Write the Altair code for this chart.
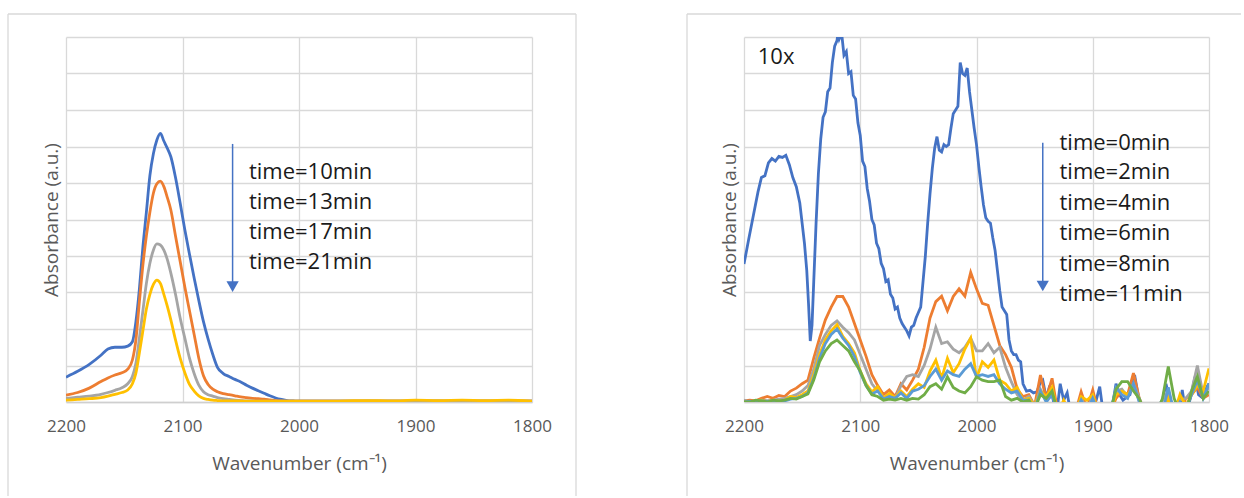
import altair as alt
import pandas as pd

FONT = "Open Sans"
GRID = "#d9d9d9"
AXIS_TEXT = "#595959"
BLUE, ORANGE, GRAY, YELLOW, LIGHT_BLUE, GREEN = (
    "#4472C4", "#ED7D31", "#A5A5A5", "#FFC000", "#5B9BD5", "#70AD47")

# ---------------- left panel: spectra at 10, 13, 17 and 21 min ----------------
LEFT_WN = [2200, 2190, 2180, 2170, 2164, 2158, 2152, 2147, 2143, 2140,
           2137, 2134, 2131, 2128, 2125, 2122, 2119, 2116, 2113, 2110,
           2106, 2102, 2098, 2094, 2090, 2086, 2082, 2078, 2074, 2070,
           2065, 2060, 2055, 2050, 2045, 2040, 2035, 2030, 2025, 2020,
           2015, 2010, 2005, 2000, 1980, 1960, 1940, 1920, 1900, 1880,
           1860, 1840, 1820, 1800]
LEFT_T10 = [0.68, 0.84, 1.03, 1.28, 1.45, 1.50, 1.50, 1.53, 1.65, 2.20,
            3.10, 4.25, 5.20, 6.20, 6.80, 7.18, 7.36, 7.15, 6.95, 6.72,
            6.15, 5.45, 4.72, 4.05, 3.40, 2.78, 2.20, 1.72, 1.30, 0.95,
            0.78, 0.70, 0.62, 0.55, 0.46, 0.38, 0.31, 0.24, 0.17, 0.11,
            0.07, 0.04, 0.03, 0.02, 0.02, 0.02, 0.02, 0.02, 0.02, 0.02,
            0.02, 0.02, 0.02, 0.02]
LEFT_T13 = [0.19, 0.26, 0.38, 0.56, 0.66, 0.74, 0.80, 0.90, 1.15, 1.70,
            2.75, 3.75, 4.55, 5.20, 5.72, 5.98, 6.05, 5.90, 5.60, 5.26,
            4.55, 3.85, 3.15, 2.50, 1.85, 1.20, 0.72, 0.48, 0.35, 0.28,
            0.23, 0.20, 0.17, 0.14, 0.12, 0.10, 0.09, 0.08, 0.06, 0.04,
            0.03, 0.02, 0.02, 0.02, 0.02, 0.02, 0.02, 0.02, 0.02, 0.02,
            0.02, 0.02, 0.02, 0.02]
LEFT_T17 = [0.10, 0.13, 0.16, 0.21, 0.26, 0.32, 0.39, 0.50, 0.70, 1.06,
            1.75, 2.50, 3.25, 3.80, 4.16, 4.33, 4.30, 4.16, 3.90, 3.53,
            2.95, 2.30, 1.75, 1.20, 0.78, 0.46, 0.28, 0.20, 0.16, 0.12,
            0.09, 0.07, 0.05, 0.04, 0.03, 0.03, 0.02, 0.02, 0.02, 0.02,
            0.02, 0.02, 0.02, 0.02, 0.02, 0.02, 0.03, 0.02, 0.03, 0.03,
            0.02, 0.03, 0.02, 0.02]
LEFT_T21 = [0.05, 0.07, 0.09, 0.12, 0.16, 0.21, 0.26, 0.33, 0.50, 0.79,
            1.35, 1.95, 2.55, 2.95, 3.22, 3.34, 3.25, 2.95, 2.62, 2.25,
            1.70, 1.20, 0.80, 0.48, 0.30, 0.17, 0.10, 0.07, 0.05, 0.04,
            0.03, 0.03, 0.03, 0.03, 0.02, 0.02, 0.02, 0.02, 0.02, 0.02,
            0.02, 0.02, 0.02, 0.02, 0.02, 0.03, 0.04, 0.03, 0.05, 0.04,
            0.05, 0.04, 0.05, 0.02]
LEFT_LABELS = ["time=10min", "time=13min", "time=17min", "time=21min"]
LEFT_LABEL_Y = [6.30, 5.48, 4.66, 3.84]

# ---------------- right panel (x10): spectra at 0 - 11 min ----------------
RIGHT_T0 = [
    (2200, 3.78), (2196, 4.45), (2192, 5.10), (2188, 5.75), (2185, 6.15),
    (2182, 6.20), (2179, 6.55), (2176, 6.67), (2173, 6.60), (2170, 6.73),
    (2167, 6.70), (2164, 6.76), (2161, 6.50), (2158, 6.15), (2155, 5.90),
    (2152, 5.45), (2150, 4.90), (2148, 4.35), (2146, 3.60), (2144.5, 2.70),
    (2143, 1.67), (2141.5, 2.10), (2140, 3.30), (2138, 4.90), (2136, 6.26),
    (2134, 7.20), (2132, 7.80), (2130, 7.95), (2128, 8.50), (2126, 8.60),
    (2124, 9.30), (2122, 9.75), (2120, 9.90), (2119, 10.15), (2118, 9.95),
    (2116, 10.10), (2114, 9.50), (2112, 9.60), (2110, 9.00), (2108, 9.05),
    (2106, 8.40), (2104, 8.30), (2102, 7.65), (2100, 7.30), (2098, 6.60),
    (2096, 6.45), (2094, 5.85), (2092, 5.50), (2090, 5.00), (2088, 4.85),
    (2086, 4.35), (2084, 4.20), (2082, 3.80), (2080, 3.65), (2078, 3.30),
    (2076, 3.35), (2074, 2.95), (2072, 2.85), (2070, 2.55), (2068, 2.60),
    (2066, 2.30), (2064, 2.15), (2062, 2.05), (2060, 1.95), (2058, 1.81),
    (2056, 2.05), (2054, 2.10), (2052, 2.30), (2050, 2.45), (2048, 2.60),
    (2046, 3.30), (2044, 4.00), (2042, 4.90), (2040, 5.70), (2038, 6.40),
    (2036, 6.95), (2034, 7.27), (2032, 6.90), (2030, 6.85), (2028, 7.05),
    (2026, 7.00), (2024, 7.05), (2022, 7.50), (2020, 7.90), (2018, 8.00),
    (2016, 8.10), (2014, 9.30), (2012, 9.00), (2010, 8.95), (2008, 9.15),
    (2006, 8.50), (2004, 8.00), (2002, 7.50), (2000, 7.05), (1998, 6.45),
    (1996, 5.90), (1994, 5.40), (1992, 5.05), (1990, 4.95), (1988, 4.90),
    (1986, 4.50), (1984, 4.15), (1982, 3.60), (1980, 3.05), (1978, 2.60),
    (1976, 2.50), (1974, 2.40), (1972, 1.70), (1970, 1.40), (1968, 1.30),
    (1966, 1.30), (1964, 1.15), (1962, 1.10), (1960, 0.50), (1957, 0.30),
    (1954, 0.32), (1951, 0.25), (1948, 0.28), (1945, 0.55), (1943, 0.60),
    (1940, 0.10), (1937, 0.45), (1934, 0.05), (1931, -0.30), (1928, 0.50),
    (1925, 0.05), (1922, 0.25), (1919, -0.30), (1912, -0.30), (1906, -0.30),
    (1897, 0.05), (1894, 0.42), (1891, -0.30), (1884, -0.30), (1880, 0.50),
    (1877, 0.20), (1874, 0.05), (1868, 0.20), (1864, 0.74), (1861, 0.20),
    (1858, -0.30), (1848, -0.30), (1840, 0.05), (1837, 0.50), (1834, 0.10),
    (1830, -0.30), (1826, -0.30), (1823, 0.33), (1820, -0.30), (1816, 0.10),
    (1812, 0.69), (1809, 0.20), (1805, 0.10), (1802, 0.40), (1800, 0.51),
]

# the later spectra share a 5 cm-1 sampling grid
RIGHT_WN = list(range(2200, 1799, -5))
RIGHT_T2 = [0.03, 0.05, 0.03, 0.10, 0.15, 0.10, 0.18, 0.15, 0.30, 0.38,
            0.50, 0.60, 1.20, 1.75, 2.25, 2.60, 2.89, 2.89, 2.60, 2.15,
            1.70, 1.25, 0.75, 0.45, 0.20, 0.33, 0.15, 0.50, 0.33, 0.60,
            0.90, 1.50, 2.30, 2.75, 2.90, 2.50, 2.89, 3.10, 2.90, 3.55,
            3.10, 2.70, 2.65, 2.10, 1.55, 1.30, 0.95, 0.35, 0.15, 0.20,
            -0.10, 0.74, 0.10, 0.65, -0.30, -0.30, -0.30, -0.30, 0.28, -0.20,
            0.33, -0.30, -0.30, -0.30, 0.10, 0.30, 0.20, 0.79, 0.10, -0.30,
            -0.30, -0.30, -0.30, 0.20, -0.30, -0.30, 0.10, 0.20, 0.40, 0.10,
            0.20]
RIGHT_T4 = [0.05, 0.00, 0.02, 0.05, 0.03, 0.05, 0.08, 0.10, 0.15, 0.20,
            0.30, 0.45, 0.90, 1.55, 1.85, 2.10, 2.22, 2.05, 1.90, 1.70,
            1.30, 0.90, 0.50, 0.30, 0.12, 0.20, 0.10, 0.45, 0.70, 0.75,
            0.70, 1.00, 1.45, 2.05, 1.60, 1.65, 1.45, 1.35, 1.50, 1.75,
            1.40, 1.40, 1.60, 1.35, 1.50, 0.95, 0.55, 0.20, 0.05, 0.15,
            -0.10, 0.35, 0.05, 0.25, -0.30, -0.30, -0.30, -0.30, 0.10, -0.20,
            0.15, -0.30, -0.30, -0.30, 0.30, 0.35, 0.15, 0.50, 0.10, -0.30,
            -0.30, -0.30, 0.05, 0.30, -0.30, 0.05, 0.10, 0.30, 1.00, 0.20,
            0.40]
RIGHT_T6 = [0.02, 0.00, 0.03, 0.05, 0.02, 0.05, 0.03, 0.05, 0.15, 0.12,
            0.20, 0.30, 0.75, 1.30, 1.70, 1.95, 2.12, 1.80, 1.60, 1.35,
            0.85, 0.50, 0.28, 0.42, 0.10, 0.24, 0.12, 0.30, 0.15, 0.35,
            0.50, 0.40, 0.85, 1.15, 0.65, 1.20, 0.80, 1.05, 1.45, 1.75,
            0.65, 1.10, 0.95, 1.15, 0.60, 0.50, 0.30, 0.40, 0.05, 0.10,
            -0.10, 0.30, 0.15, 0.40, -0.30, 0.05, -0.30, -0.30, 0.15, 0.05,
            0.20, -0.30, -0.30, -0.30, 0.20, 0.30, 0.20, 0.40, 0.05, -0.30,
            -0.30, -0.30, -0.30, 0.10, -0.30, 0.20, -0.10, 0.20, 0.45, 0.30,
            0.92]
RIGHT_T8 = [0.00, 0.02, 0.00, 0.03, 0.02, 0.03, 0.02, 0.03, 0.08, 0.10,
            0.15, 0.25, 0.65, 1.20, 1.60, 1.85, 2.00, 1.75, 1.55, 1.25,
            0.80, 0.45, 0.22, 0.30, 0.08, 0.15, 0.10, 0.25, 0.10, 0.30,
            0.35, 0.45, 0.70, 0.90, 0.60, 0.85, 0.75, 0.70, 0.90, 1.05,
            0.70, 0.75, 0.70, 0.75, 0.50, 0.35, 0.25, 0.30, 0.05, 0.05,
            -0.20, 0.30, 0.00, 0.20, -0.30, -0.30, -0.30, -0.30, 0.05, -0.30,
            0.10, -0.30, -0.30, -0.30, 0.40, 0.20, 0.10, 0.50, 0.00, -0.30,
            -0.30, -0.30, -0.30, 0.40, -0.30, 0.00, -0.20, 0.20, 0.60, 0.10,
            0.50]
RIGHT_T11 = [0.00, 0.00, 0.05, 0.03, 0.00, 0.05, 0.03, 0.05, 0.10, 0.08,
             0.15, 0.22, 0.60, 1.10, 1.40, 1.60, 1.70, 1.55, 1.40, 1.10,
             0.85, 0.45, 0.20, 0.15, 0.05, 0.08, 0.05, 0.10, 0.05, 0.10,
             0.08, 0.20, 0.42, 0.50, 0.35, 0.69, 0.40, 0.30, 0.25, 0.42,
             0.69, 0.60, 0.56, 0.56, 0.60, 0.15, 0.05, 0.10, 0.00, 0.05,
             -0.20, 0.20, 0.10, 0.30, -0.30, -0.30, -0.30, -0.30, -0.30, -0.30,
             -0.30, -0.30, -0.30, -0.30, 0.35, 0.56, 0.56, 0.30, 0.10, -0.30,
             -0.30, -0.30, 0.10, 0.97, 0.10, -0.30, -0.30, 0.30, 0.70, 0.10,
             0.30]
RIGHT_LABELS = ["time=0min", "time=2min", "time=4min",
                "time=6min", "time=8min", "time=11min"]
RIGHT_LABEL_Y = [7.10, 6.29, 5.45, 4.63, 3.79, 2.96]

X_TICKS = [2200, 2100, 2000, 1900, 1800]
Y_GRID = [0, 1, 2, 3, 4, 5, 6, 7, 8, 9, 10]
PLOT_H = 365

x_enc = alt.X(
    "wn:Q",
    scale=alt.Scale(domain=[1800, 2200], reverse=True, nice=False, zero=False),
    axis=alt.Axis(values=X_TICKS, format="d", grid=True, gridColor=GRID,
                  gridWidth=1.3, ticks=False, tickSize=0, domainColor="#cfcfcf",
                  domainWidth=1.3, labelFont=FONT, labelFontSize=17,
                  labelColor=AXIS_TEXT, labelPadding=16, labelFlush=False,
                  labelOverlap=False,
                  title="Wavenumber (cm⁻¹)", titleFont=FONT, titleFontSize=19,
                  titleFontWeight="normal", titleColor=AXIS_TEXT,
                  titlePadding=20),
)
y_enc = alt.Y(
    "absorb:Q",
    scale=alt.Scale(domain=[0, 10], nice=False, zero=False),
    axis=alt.Axis(values=Y_GRID, grid=True, gridColor=GRID, gridWidth=1.3,
                  labels=False, ticks=False, tickSize=0, domain=False,
                  title="Absorbance (a.u.)", titleFont=FONT, titleFontSize=19,
                  titleFontWeight="normal", titleColor=AXIS_TEXT,
                  titlePadding=5),
)


def spectrum(wn, absorb, color, interp):
    df = pd.DataFrame({"wn": wn, "absorb": absorb})
    return alt.Chart(df).mark_line(
        color=color, strokeWidth=2.8, interpolate=interp, clip=True
    ).encode(x=x_enc, y=y_enc)


def frame(left, right, with_right_side):
    one = pd.DataFrame({"k": [0]})
    style = dict(color=GRID, strokeWidth=1.3)
    parts = [
        alt.Chart(one).mark_rule(**style).encode(
            x=alt.value(left), x2=alt.value(right), y=alt.value(-23)),
        alt.Chart(one).mark_rule(**style).encode(
            x=alt.value(left), y=alt.value(-23), y2=alt.value(459)),
    ]
    if with_right_side:
        parts.append(alt.Chart(one).mark_rule(**style).encode(
            x=alt.value(right), y=alt.value(-23), y2=alt.value(459)))
    return parts


def arrow(wn, top, bottom):
    shaft = pd.DataFrame({"wn": [wn], "absorb": [top], "absorb2": [bottom + 0.1]})
    head = pd.DataFrame({"wn": [wn], "absorb": [bottom]})
    return [
        alt.Chart(shaft).mark_rule(color=BLUE, strokeWidth=1.5).encode(
            x=x_enc, y=y_enc, y2="absorb2:Q"),
        alt.Chart(head).mark_point(shape="triangle-down", filled=True,
                                   size=150, color=BLUE, opacity=1).encode(
            x=x_enc, y=y_enc),
    ]


def labels(wn, ys, texts):
    df = pd.DataFrame({"wn": [wn] * len(ys), "absorb": ys, "label": texts})
    return alt.Chart(df).mark_text(
        align="left", baseline="middle", font=FONT, fontSize=22,
        color="#1a1a1a"
    ).encode(x=x_enc, y=y_enc, text="label:N")


left_layers = (
    frame(-58, 510, True)
    + [spectrum(LEFT_WN, LEFT_T10, BLUE, "monotone"),
       spectrum(LEFT_WN, LEFT_T13, ORANGE, "monotone"),
       spectrum(LEFT_WN, LEFT_T17, GRAY, "monotone"),
       spectrum(LEFT_WN, LEFT_T21, YELLOW, "monotone")]
    + arrow(2057, 7.07, 3.16)
    + [labels(2043, LEFT_LABEL_Y, LEFT_LABELS)]
)
left = alt.layer(*left_layers).properties(width=466, height=PLOT_H)

right_layers = (
    frame(-57, 497, False)
    + [spectrum([p[0] for p in RIGHT_T0], [p[1] for p in RIGHT_T0], BLUE, "linear"),
       spectrum(RIGHT_WN, RIGHT_T2, ORANGE, "linear"),
       spectrum(RIGHT_WN, RIGHT_T4, GRAY, "linear"),
       spectrum(RIGHT_WN, RIGHT_T6, YELLOW, "linear"),
       spectrum(RIGHT_WN, RIGHT_T8, LIGHT_BLUE, "linear"),
       spectrum(RIGHT_WN, RIGHT_T11, GREEN, "linear")]
    + arrow(1943, 7.10, 3.18)
    + [labels(1928.6, RIGHT_LABEL_Y, RIGHT_LABELS),
       labels(2188.2, [9.44], ["10x"])]
)
right = alt.layer(*right_layers).properties(width=465, height=PLOT_H)

chart = (
    alt.hconcat(left, right, spacing=107)
    .properties(padding={"left": 6, "top": 12, "right": 0, "bottom": 0},
                background="white")
    .configure_view(stroke="transparent")
)

chart.save("out.html", embed_options={"renderer": "svg", "actions": False})
